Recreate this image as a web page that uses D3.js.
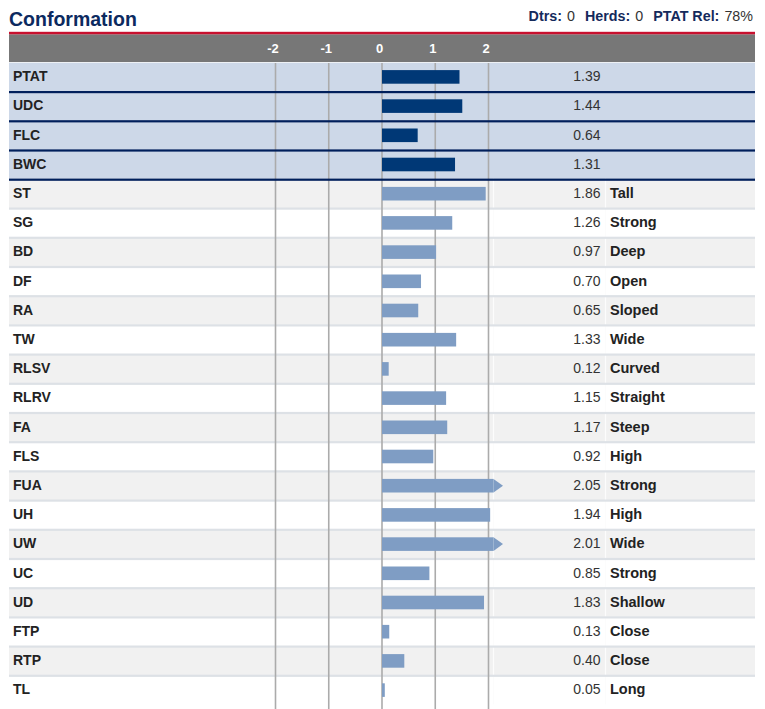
<!DOCTYPE html>
<html>
<head>
<meta charset="utf-8">
<script src="https://cdn.jsdelivr.net/npm/d3@7"></script>
<style>
  html, body { margin: 0; padding: 0; background: #fff; }
  svg { display: block; font-family: "Liberation Sans", Arial, sans-serif; }
</style>
</head>
<body>
<svg id="chart" width="765" height="709"></svg>
<script>
// ---- data ----
const traits = ["PTAT","UDC","FLC","BWC","ST","SG","BD","DF","RA","TW","RLSV","RLRV","FA","FLS","FUA","UH","UW","UC","UD","FTP","RTP","TL"];
const values = [1.39,1.44,0.64,1.31,1.86,1.26,0.97,0.70,0.65,1.33,0.12,1.15,1.17,0.92,2.05,1.94,2.01,0.85,1.83,0.13,0.40,0.05];
const descriptors = ["","","","","Tall","Strong","Deep","Open","Sloped","Wide","Curved","Straight","Steep","High","Strong","High","Wide","Strong","Shallow","Close","Close","Long"];
const compositeCount = 4;
const tickValues = [-2,-1,0,1,2];
const tickLabels = ["-2","-1","0","1","2"];
const title = "Conformation";
const stats = [["Dtrs:", "0"], ["Herds:", "0"], ["PTAT Rel:", "78%"]];

// ---- layout ----
const svg = d3.select("#chart");
const left = 9, right = 755;
const headerTop = 34.5, headerBottom = 62;
const rowH = 29.2;

const y = d3.scaleBand().domain(traits).range([headerBottom, headerBottom + rowH * traits.length]);
const xGrid = d3.scaleLinear().domain([-2, 2]).range([275.5, 488.5]);
const xBar = d3.scaleLinear().domain([0, 2]).range([382, 493.5]).clamp(true);

const rows = traits.map((t, i) => ({ t, v: values[i], d: descriptors[i], i, comp: i < compositeCount }));

// title
svg.append("text").attr("x", 9).attr("y", 26)
  .attr("font-size", 19.5).attr("font-weight", "bold").attr("fill", "#0c2a60")
  .text(title);

// stats (right aligned)
const st = svg.append("text").attr("x", 753).attr("y", 21).attr("text-anchor", "end")
  .attr("font-size", 14.3);
stats.forEach((s, k) => {
  st.append("tspan").attr("font-weight", "bold").attr("fill", "#142a5c")
    .attr("dx", k === 0 ? 0 : 10).text(s[0]);
  st.append("tspan").attr("fill", "#333").attr("dx", 5).text(s[1]);
});

// red rule and header
svg.append("rect").attr("x", left).attr("y", 31.8).attr("width", right - left).attr("height", 2.8).attr("fill", "#c8102e");
svg.append("rect").attr("x", left).attr("y", headerTop).attr("width", right - left).attr("height", headerBottom - headerTop).attr("fill", "#777777");

svg.append("g").selectAll("text").data(tickValues).join("text")
  .attr("x", d => xGrid(d) - 2.5).attr("y", 52.5)
  .attr("text-anchor", "middle").attr("font-size", 13).attr("font-weight", "bold").attr("fill", "#fff")
  .text((d, i) => tickLabels[i]);

// row backgrounds
svg.append("g").selectAll("rect").data(rows).join("rect")
  .attr("x", left).attr("width", right - left)
  .attr("y", d => y(d.t)).attr("height", y.bandwidth() + 0.5)
  .attr("fill", d => d.comp ? "#cdd8e8" : ((d.i - compositeCount) % 2 === 0 ? "#f1f1f1" : "#ffffff"));

// white strip under header
svg.append("rect").attr("x", left).attr("y", headerBottom).attr("width", right - left).attr("height", 1).attr("fill", "#eef1f5");

// white cell borders in grey rows
const cellCols = [493.5, 605.5];
svg.append("g").selectAll("g").data(rows.filter(d => !d.comp)).join("g")
  .each(function(d) {
    d3.select(this).selectAll("line").data(cellCols).join("line")
      .attr("x1", c => c).attr("x2", c => c)
      .attr("y1", y(d.t)).attr("y2", y(d.t) + y.bandwidth())
      .attr("stroke", "#fcfcfc").attr("stroke-width", 1.2);
  });

// light separators
svg.append("g").selectAll("rect").data(rows.filter(d => d.i > compositeCount)).join("rect")
  .attr("x", left).attr("width", right - left)
  .attr("y", d => y(d.t) - 0.5).attr("height", 2.2)
  .attr("fill", "#dde1e6");

// gridlines
svg.append("g").selectAll("line").data(tickValues).join("line")
  .attr("x1", d => xGrid(d)).attr("x2", d => xGrid(d))
  .attr("y1", headerBottom + 1).attr("y2", 709)
  .attr("stroke", "#ababab").attr("stroke-width", 1.6);

// navy separators for composite rows
svg.append("g").selectAll("rect").data(rows.filter(d => d.i < compositeCount)).join("rect")
  .attr("x", left).attr("width", right - left)
  .attr("y", d => y(d.t) + y.bandwidth() - 0.2).attr("height", 2.2)
  .attr("fill", "#001f5b");

// bars
const barH = 13.6;
const bars = svg.append("g");
bars.selectAll("rect").data(rows).join("rect")
  .attr("x", xBar(0))
  .attr("y", d => y(d.t) + y.bandwidth() / 2 - barH / 2 + 0.3)
  .attr("width", d => xBar(d.v) - xBar(0))
  .attr("height", barH)
  .attr("fill", d => d.comp ? "#003876" : "#7f9dc4");

// arrow for values beyond the axis maximum
bars.selectAll("path").data(rows.filter(d => d.v > xBar.domain()[1])).join("path")
  .attr("d", d => {
    const x0 = xBar(xBar.domain()[1]);
    const yc = y(d.t) + y.bandwidth() / 2 + 0.3;
    return `M${x0},${yc - barH / 2}L${x0 + 9.5},${yc}L${x0},${yc + barH / 2}Z`;
  })
  .attr("fill", d => d.comp ? "#003876" : "#7f9dc4");

// labels
const txt = svg.append("g").attr("font-size", 14);
txt.selectAll("text.lab").data(rows).join("text").attr("class", "lab")
  .attr("x", 13).attr("y", d => y(d.t) + y.bandwidth() / 2 + 4.5)
  .attr("font-weight", "bold").attr("fill", "#222")
  .text(d => d.t);

txt.selectAll("text.val").data(rows).join("text").attr("class", "val")
  .attr("x", 600.5).attr("y", d => y(d.t) + y.bandwidth() / 2 + 4.5)
  .attr("text-anchor", "end").attr("fill", "#333")
  .text(d => d3.format(".2f")(d.v));

txt.selectAll("text.desc").data(rows.filter(d => d.d)).join("text").attr("class", "desc")
  .attr("x", 610).attr("y", d => y(d.t) + y.bandwidth() / 2 + 4.5)
  .attr("font-weight", "bold").attr("fill", "#222").attr("font-size", 14.5)
  .text(d => d.d);
</script>
</body>
</html>
